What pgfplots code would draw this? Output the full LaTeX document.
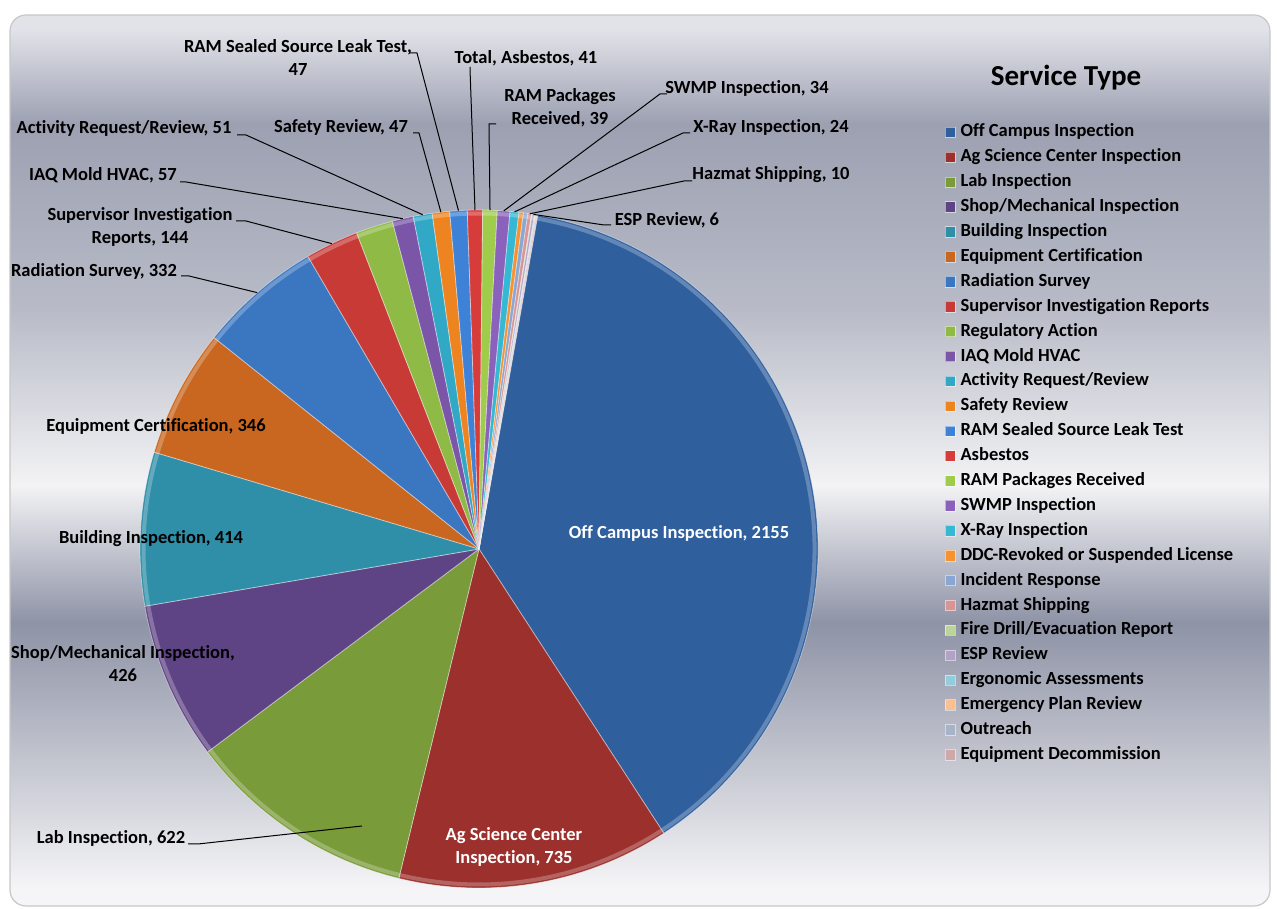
\documentclass[border=0pt]{standalone}
\usepackage{pgfplots}
\pgfplotsset{compat=1.18}
\usepackage{pgfplotstable}
\usepackage{fontspec}
\setmainfont{Carlito}[Ligatures=NoCommon]

% slice colours (Office style, four cycles)
\definecolor{s01}{HTML}{305F9E}
\definecolor{s02}{HTML}{9B302D}
\definecolor{s03}{HTML}{7A9B3A}
\definecolor{s04}{HTML}{5F4485}
\definecolor{s05}{HTML}{2F8EA8}
\definecolor{s06}{HTML}{C9661F}
\definecolor{s07}{HTML}{3B76C0}
\definecolor{s08}{HTML}{C83A36}
\definecolor{s09}{HTML}{8FBA45}
\definecolor{s10}{HTML}{7A55A8}
\definecolor{s11}{HTML}{31A8C6}
\definecolor{s12}{HTML}{EE8420}
\definecolor{s13}{HTML}{3D82D6}
\definecolor{s14}{HTML}{D63D3A}
\definecolor{s15}{HTML}{A0CC4C}
\definecolor{s16}{HTML}{8A62BC}
\definecolor{s17}{HTML}{35B8D4}
\definecolor{s18}{HTML}{F79230}
\definecolor{s19}{HTML}{8AA7D4}
\definecolor{s20}{HTML}{D99594}
\definecolor{s21}{HTML}{BCD49A}
\definecolor{s22}{HTML}{B3A2C7}
\definecolor{s23}{HTML}{93CDDD}
\definecolor{s24}{HTML}{FAC090}
\definecolor{s25}{HTML}{A6B3C8}
\definecolor{s26}{HTML}{D1A8A8}

% background bands
\definecolor{bg1}{HTML}{F5F5F7}
\definecolor{bg2}{HTML}{C3C5CF}
\definecolor{bg3}{HTML}{8E93A6}
\definecolor{bg4}{HTML}{F3F3F5}
\definecolor{bg5}{HTML}{B8BBC7}
\definecolor{bg6}{HTML}{9CA0B1}
\definecolor{bg7}{HTML}{E2E3E9}
\pgfdeclareverticalshading{chartbg}{100bp}{color(0bp)=(bg1); color(26bp)=(bg1);
  color(33.2bp)=(bg2); color(40.9bp)=(bg3); color(48.6bp)=(bg4);
  color(58.5bp)=(bg5); color(68.9bp)=(bg6); color(74.2bp)=(bg7); color(100bp)=(bg7)}

\pgfplotstableread[col sep=comma]{
name,value,color
Off Campus Inspection,2155,s01
Ag Science Center Inspection,735,s02
Lab Inspection,622,s03
Shop/Mechanical Inspection,426,s04
Building Inspection,414,s05
Equipment Certification,346,s06
Radiation Survey,332,s07
Supervisor Investigation Reports,144,s08
Regulatory Action,100,s09
IAQ Mold HVAC,57,s10
Activity Request/Review,51,s11
Safety Review,47,s12
RAM Sealed Source Leak Test,47,s13
Asbestos,41,s14
RAM Packages Received,39,s15
SWMP Inspection,34,s16
X-Ray Inspection,24,s17
DDC-Revoked or Suspended License,12,s18
Incident Response,12,s19
Hazmat Shipping,10,s20
Fire Drill/Evacuation Report,2,s21
ESP Review,6,s22
Ergonomic Assessments,2,s23
Emergency Plan Review,1,s24
Outreach,3,s25
Equipment Decommission,2,s26
}\piedata

% pie geometry (axis units = pt)
\def\cx{479}\def\cy{360}\def\rad{339}\def\brad{335.5}

\pgfplotstablegetrowsof{\piedata}
\pgfmathtruncatemacro\nlast{\pgfplotsretval-1}
\gdef\pietotal{0}
\foreach \i in {0,...,\nlast}{%
  \pgfplotstablegetelem{\i}{value}\of\piedata
  \pgfmathsetmacro\tmp{\pietotal+\pgfplotsretval}%
  \global\let\pietotal\tmp
}
% first slice starts 10 degrees right of 12 o'clock, slices run clockwise
\gdef\acc{80}
\foreach \i in {0,...,\nlast}{%
  \pgfplotstablegetelem{\i}{value}\of\piedata
  \pgfmathsetmacro\aend{\acc-360*(\pgfplotsretval/\pietotal)}%
  \pgfmathsetmacro\amid{(\acc+\aend)/2}%
  \pgfmathsetmacro\sx{\cx+\rad*cos(\acc)}%
  \pgfmathsetmacro\sy{\cy+\rad*sin(\acc)}%
  \pgfmathsetmacro\bx{\cx+\brad*cos(\acc)}%
  \pgfmathsetmacro\by{\cy+\brad*sin(\acc)}%
  \expandafter\xdef\csname as\i\endcsname{\acc}%
  \expandafter\xdef\csname ae\i\endcsname{\aend}%
  \expandafter\xdef\csname am\i\endcsname{\amid}%
  \expandafter\xdef\csname sx\i\endcsname{\sx}%
  \expandafter\xdef\csname sy\i\endcsname{\sy}%
  \expandafter\xdef\csname bx\i\endcsname{\bx}%
  \expandafter\xdef\csname by\i\endcsname{\by}%
  \pgfplotstablegetelem{\i}{color}\of\piedata
  \expandafter\xdef\csname col\i\endcsname{\pgfplotsretval}%
  \pgfplotstablegetelem{\i}{name}\of\piedata
  \expandafter\xdef\csname nm\i\endcsname{\pgfplotsretval}%
  \global\let\acc\aend
}

% leader line: slice index, radius, start point, knee
\newcommand\leader[4]{%
  \pgfmathsetmacro\lx{\cx+#2*cos(\csname am#1\endcsname)}%
  \pgfmathsetmacro\ly{\cy+#2*sin(\csname am#1\endcsname)}%
  \edef\temp{\noexpand\draw[black, line width=1pt] (axis cs:#3) -- (axis cs:#4) -- (axis cs:\lx,\ly);}\temp}

\tikzset{lbl/.style={font=\fontsize{18.5}{23}\selectfont\bfseries, align=center, inner sep=0pt}}

\begin{document}
\begin{tikzpicture}
\begin{axis}[
  x=1pt, y=1pt,
  xmin=0, xmax=1277, ymin=0, ymax=909,
  scale only axis, hide axis, clip=false,
  legend cell align=left,
  legend style={
    at={(axis cs:945,785)}, anchor=north west,
    draw=none, fill=none, inner sep=0pt, outer sep=0pt,
    font=\fontsize{18.5}{22}\selectfont\bfseries,
    row sep=7.9pt, column sep=5pt,
    nodes={inner sep=0pt, text height=13pt, text depth=4pt},
  },
  legend image code/.code={\fill[#1, draw=white, draw opacity=0.5, line width=0.5pt] (0pt,-5pt) rectangle (10pt,5.5pt);},
]
% chart area background
\fill[white] (axis cs:0,0) rectangle (axis cs:1277,909);
\shade[shading=chartbg, draw=black!22, line width=1.2pt, rounded corners=16pt]
  (axis cs:10,3) rectangle (axis cs:1270,894);

% slices (with a light bevel along the rim) and legend entries
\pgfplotsforeachungrouped \i in {0,...,\nlast}{%
  \edef\temp{\noexpand\fill[\csname col\i\endcsname, draw=white, draw opacity=0.45, line width=0.8pt, line join=round]
    (axis cs:\cx,\cy) -- (axis cs:\csname sx\i\endcsname,\csname sy\i\endcsname)
    arc[start angle=\csname as\i\endcsname, end angle=\csname ae\i\endcsname, radius=\rad pt] -- cycle;
    \noexpand\draw[white, draw opacity=0.25, line width=4pt]
    (axis cs:\csname bx\i\endcsname,\csname by\i\endcsname)
    arc[start angle=\csname as\i\endcsname, end angle=\csname ae\i\endcsname, radius=\brad pt];
    \noexpand\addlegendimage{\csname col\i\endcsname}
    \noexpand\addlegendentry{\csname nm\i\endcsname}}%
  \temp
}

% data labels
\node[lbl] at (axis cs:298,851) {RAM Sealed Source Leak Test,\\47};
\leader{12}{339}{409,856}{417,856}
\node[lbl] at (axis cs:526,851) {Total, Asbestos, 41};
\leader{13}{339}{470,842}{470,840}
\node[lbl] at (axis cs:560,801) {RAM Packages\\Received, 39};
\leader{14}{339}{496,785}{489,785}
\node[lbl] at (axis cs:747,821) {SWMP Inspection, 34};
\leader{15}{339}{667,815}{660,815}
\node[lbl] at (axis cs:771,782) {X-Ray Inspection, 24};
\leader{16}{339}{690,776}{683,776}
\node[lbl] at (axis cs:771,734) {Hazmat Shipping, 10};
\leader{19}{339}{692,728}{684,728}
\node[lbl] at (axis cs:667,689) {ESP Review, 6};
\leader{21}{339}{611,684}{604,684}
\node[lbl] at (axis cs:341,782) {Safety Review, 47};
\leader{11}{339}{413,776}{419,776}
\node[lbl] at (axis cs:124,781) {Activity Request/Review, 51};
\leader{10}{339}{237,774}{246,774}
\node[lbl] at (axis cs:103,734) {IAQ Mold HVAC, 57};
\leader{9}{339}{180,727}{186,727}
\node[lbl] at (axis cs:140,682) {Supervisor Investigation\\Reports, 144};
\leader{7}{339}{236,688}{246,688}
\node[lbl] at (axis cs:94,638) {Radiation Survey, 332};
\leader{6}{339}{181,633}{189,633}
\node[lbl] at (axis cs:156,483) {Equipment Certification, 346};
\node[lbl] at (axis cs:151,370) {Building Inspection, 414};
\node[lbl] at (axis cs:123,245) {Shop/Mechanical Inspection,\\426};
\node[lbl] at (axis cs:111,71) {Lab Inspection, 622};
\draw[black, line width=1pt] (axis cs:188,65) -- (axis cs:198,65) -- (axis cs:362,83);
\node[lbl, white] at (axis cs:679,376) {Off Campus Inspection, 2155};
\node[lbl, white] at (axis cs:514,62) {Ag Science Center\\Inspection, 735};

% legend title
\node[font=\fontsize{29}{34}\selectfont\bfseries, inner sep=0pt] at (axis cs:1066,831) {Service Type};
\end{axis}
\end{tikzpicture}
\end{document}
